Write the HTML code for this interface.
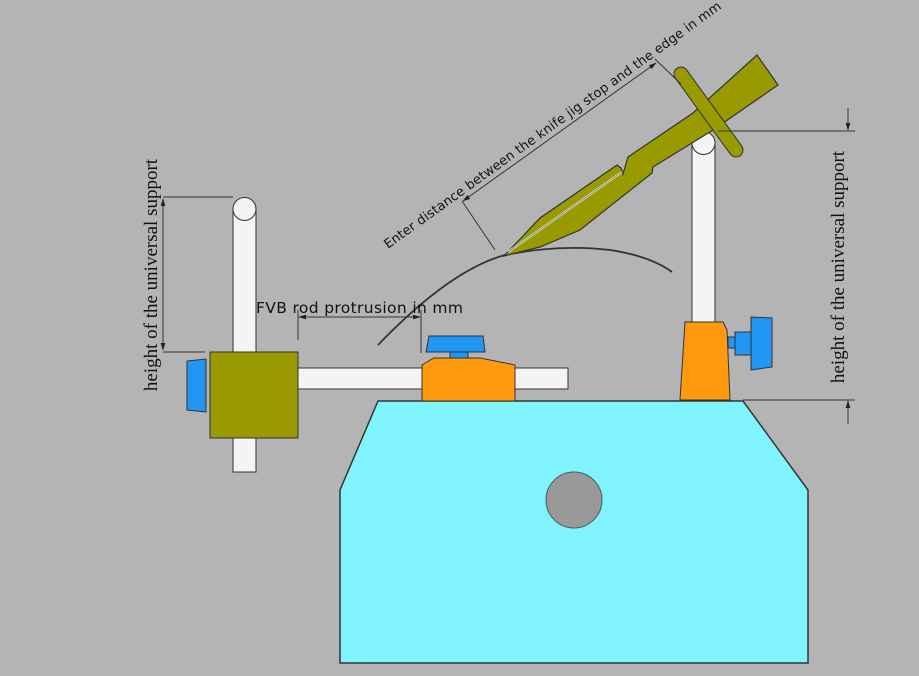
<!DOCTYPE html>
<html><head><meta charset="utf-8"><style>
html,body{margin:0;padding:0;background:#b4b4b4;}
svg{display:block}
text{fill:#111}
</style></head><body>
<svg width="919" height="676" viewBox="0 0 919 676" xmlns="http://www.w3.org/2000/svg">
<rect x="0" y="0" width="919" height="676" fill="#b4b4b4"/>
<defs><marker id="ar" viewBox="0 0 10 10" refX="9" refY="5" markerWidth="8" markerHeight="8" orient="auto-start-reverse"><path d="M0,2 L10,5 L0,8z" fill="#222"/></marker></defs>

<!-- base -->
<polygon points="340,490 378,401 743,401 808,490 808,663 340,663" fill="#7ff4ff" stroke="#333" stroke-width="1.5"/>
<circle cx="574" cy="500" r="28" fill="#999" stroke="#555"/>

<!-- left support -->
<rect x="233" y="209" width="23" height="263" fill="#f4f4f4" stroke="#333"/>
<circle cx="244.5" cy="209" r="11.5" fill="#f4f4f4" stroke="#333"/>
<rect x="298" y="368" width="270" height="21" fill="#f4f4f4" stroke="#333"/>
<rect x="210" y="352" width="88" height="86" fill="#999900" stroke="#333"/>
<polygon points="187,361 206,359 206,412 187,410" fill="#2196f3" stroke="#333"/>

<!-- middle clamp -->
<polygon points="422,401 422,365 434,358 480,358 515,365 515,401" fill="#ff9a0e" stroke="#333"/>
<rect x="450" y="352" width="18" height="6" fill="#2196f3" stroke="#333"/>
<polygon points="429,336 483,336 485,352 426,352" fill="#2196f3" stroke="#333"/>

<!-- right support -->
<rect x="692" y="143" width="23" height="180" fill="#f4f4f4" stroke="#333"/>
<circle cx="703.5" cy="143" r="11.5" fill="#f4f4f4" stroke="#333"/>
<polygon points="685,322 723,322 727,330 730,400 680,400" fill="#ff9a0e" stroke="#333"/>
<rect x="728" y="337" width="8" height="11" fill="#2196f3" stroke="#333"/>
<rect x="735" y="332" width="17" height="23" fill="#2196f3" stroke="#333"/>
<polygon points="751,317 772,318 772,367 751,370" fill="#2196f3" stroke="#333"/>

<!-- arc (edge path) -->
<path d="M378,345 Q450,270 505,255 Q560,244 610,250 Q650,256 672,272" fill="none" stroke="#333" stroke-width="1.8"/>

<!-- knife jig -->
<polygon points="504,256 540,218 617,165 621,168 623,174 628,157 693,113 757,55 778,85 713,130 653,167 652,173 580,230 540,247" fill="#999900" stroke="#333" stroke-width="1.2"/>
<line x1="508" y1="252" x2="622" y2="172" stroke="#eee" stroke-width="2"/>
<line x1="508" y1="252" x2="622" y2="172" stroke="#555" stroke-width="0.6"/>
<line x1="681" y1="74" x2="736" y2="150" stroke="#333" stroke-width="15" stroke-linecap="round"/>
<line x1="681" y1="74" x2="736" y2="150" stroke="#999900" stroke-width="13" stroke-linecap="round"/>

<!-- left dimension -->
<line x1="163" y1="197" x2="233" y2="197" stroke="#333"/>
<line x1="163" y1="352" x2="205" y2="352" stroke="#333"/>
<line x1="163" y1="199" x2="163" y2="350" stroke="#333" marker-start="url(#ar)" marker-end="url(#ar)"/>
<text transform="translate(157,275) rotate(-90)" text-anchor="middle" font-family="Liberation Serif, serif" font-size="19">height of the universal support</text>

<!-- right dimension -->
<line x1="718" y1="131" x2="855" y2="131" stroke="#333"/>
<line x1="743" y1="400" x2="855" y2="400" stroke="#333"/>
<line x1="848" y1="108" x2="848" y2="130" stroke="#333" marker-end="url(#ar)"/>
<line x1="848" y1="424" x2="848" y2="401" stroke="#333" marker-end="url(#ar)"/>
<text transform="translate(844,267) rotate(-90)" text-anchor="middle" font-family="Liberation Serif, serif" font-size="19">height of the universal support</text>

<!-- FVB dimension -->
<line x1="298" y1="310" x2="298" y2="340" stroke="#333"/>
<line x1="421" y1="310" x2="421" y2="353" stroke="#333"/>
<line x1="299" y1="317" x2="420" y2="317" stroke="#333" marker-start="url(#ar)" marker-end="url(#ar)"/>
<text x="256" y="313" font-family="DejaVu Sans, Liberation Sans, sans-serif" font-size="15.5" textLength="207">FVB rod protrusion in mm</text>

<!-- diagonal dimension -->
<line x1="462" y1="201" x2="495" y2="250" stroke="#333"/>
<line x1="655" y1="59" x2="681" y2="84" stroke="#333"/>
<line x1="463" y1="201" x2="656" y2="63" stroke="#333" marker-start="url(#ar)" marker-end="url(#ar)"/>
<text transform="translate(388,249) rotate(-35.8)" font-family="DejaVu Sans, Liberation Sans, sans-serif" font-size="13" textLength="412">Enter distance between the knife jig stop and the edge in mm</text>
</svg>
</body></html>
